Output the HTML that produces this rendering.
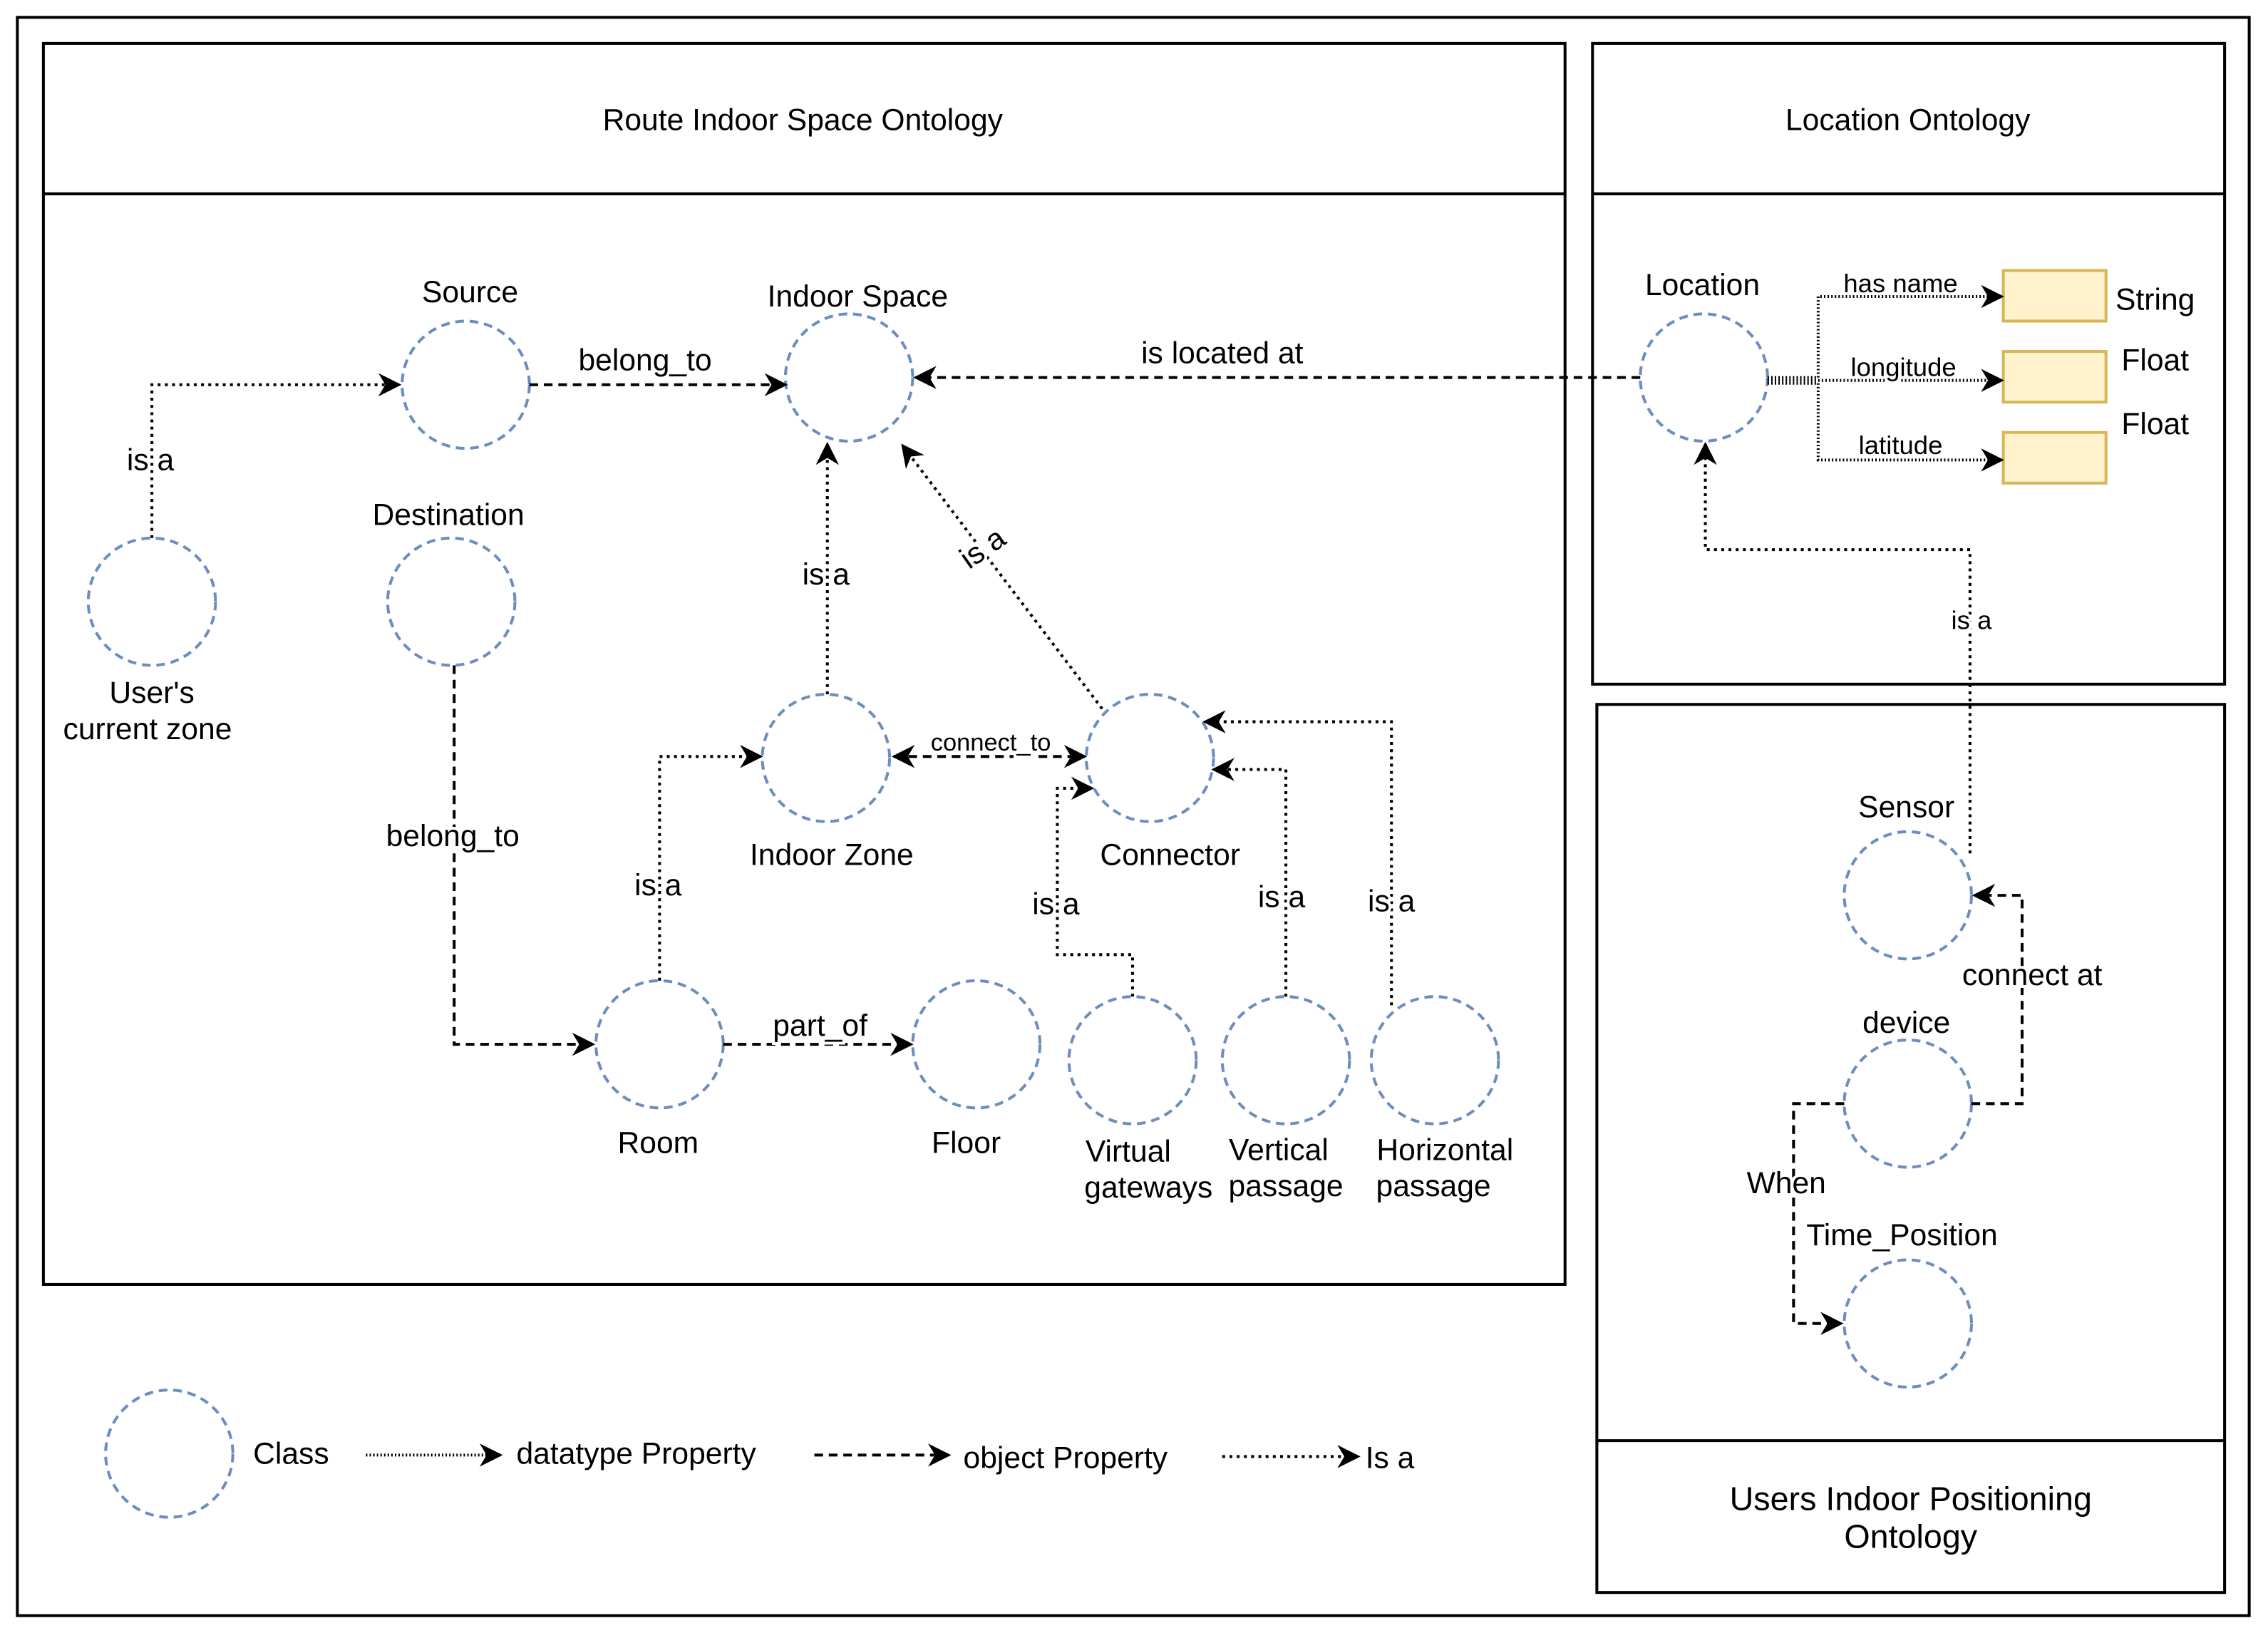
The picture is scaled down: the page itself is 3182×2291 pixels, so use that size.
<!DOCTYPE html>
<html><head><meta charset="utf-8"><style>
html,body{margin:0;padding:0;background:#fff;}
svg{display:block;}
text{font-family:"Liberation Sans",sans-serif;font-size:21px;fill:#000;}
.c{fill:none;stroke:#6c8ebf;stroke-width:2;stroke-dasharray:6,4;}
.b{fill:none;stroke:#000;stroke-width:2;}
.d{fill:none;stroke:#000;stroke-width:2;stroke-dasharray:2,3;}
.o{fill:none;stroke:#000;stroke-width:2;stroke-dasharray:6,4;}
.t{fill:none;stroke:#000;stroke-width:2;stroke-dasharray:1,1.5;}
.w{paint-order:stroke;stroke:#fff;stroke-width:4;}
</style></head><body>
<svg width="3182" height="2291" viewBox="0 0 1568 1129" preserveAspectRatio="none" xmlns="http://www.w3.org/2000/svg">
<defs><marker id="a" viewBox="0 0 10 10" refX="9" refY="5" markerWidth="8" markerHeight="8" orient="auto-start-reverse"><path d="M0,0 L10,5 L0,10 L3,5 z" fill="#000"/></marker></defs>
<rect x="0" y="0" width="1568" height="1129" fill="#fff"/>
<rect class="b" x="12" y="12" width="1543" height="1105"/>
<rect class="b" x="30" y="30" width="1052" height="858"/>
<line class="b" x1="30" y1="134" x2="1082" y2="134"/>
<rect class="b" x="1101" y="30" width="437" height="443"/>
<line class="b" x1="1101" y1="134" x2="1538" y2="134"/>
<rect class="b" x="1104" y="487" width="434" height="614"/>
<line class="b" x1="1104" y1="996" x2="1538" y2="996"/>
<text x="555" y="90" text-anchor="middle">Route Indoor Space Ontology</text>
<text x="1319" y="90" text-anchor="middle">Location Ontology</text>
<text x="1321" y="1044" text-anchor="middle" style="font-size:23px">Users Indoor Positioning</text>
<text x="1321" y="1070" text-anchor="middle" style="font-size:23px">Ontology</text>

<g>
<circle class="c" cx="322" cy="266" r="44"/>
<circle class="c" cx="587" cy="261" r="44"/>
<circle class="c" cx="105" cy="416" r="44"/>
<circle class="c" cx="312" cy="416" r="44"/>
<circle class="c" cx="571" cy="524" r="44"/>
<circle class="c" cx="795" cy="524" r="44"/>
<circle class="c" cx="456" cy="722" r="44"/>
<circle class="c" cx="675" cy="722" r="44"/>
<circle class="c" cx="783" cy="733" r="44"/>
<circle class="c" cx="889" cy="733" r="44"/>
<circle class="c" cx="992" cy="733" r="44"/>
<circle class="c" cx="1178" cy="261" r="44"/>
<circle class="c" cx="1319" cy="619" r="44"/>
<circle class="c" cx="1319" cy="763" r="44"/>
<circle class="c" cx="1319" cy="915" r="44"/>
<circle class="c" cx="117" cy="1005" r="44"/>
</g>

<g fill="#fff2cc" stroke="#d6b656" stroke-width="2">
<rect x="1385" y="187" width="71" height="35"/>
<rect x="1385" y="243" width="71" height="35"/>
<rect x="1385" y="299" width="71" height="35"/>
</g>

<polyline class="d" points="105,372 105,266 276,266" marker-end="url(#a)"/>
<line class="o" x1="366" y1="266" x2="543" y2="266" marker-end="url(#a)"/>
<line class="d" x1="572" y1="480" x2="572" y2="307" marker-end="url(#a)"/>
<line class="d" x1="762" y1="490" x2="624" y2="308" marker-end="url(#a)"/>
<line class="o" x1="1134" y1="261" x2="633" y2="261" marker-end="url(#a)"/>
<polyline class="o" points="314,460 314,722 410,722" marker-end="url(#a)"/>
<polyline class="d" points="456,678 456,523 526,523" marker-end="url(#a)"/>
<line class="o" x1="618" y1="523" x2="750" y2="523" marker-start="url(#a)" marker-end="url(#a)"/>
<polyline class="d" points="783,689 783,660 731,660 731,545 755,545" marker-end="url(#a)"/>
<polyline class="d" points="889,689 889,532 839,532" marker-end="url(#a)"/>
<polyline class="d" points="962,695 962,499 833,499" marker-end="url(#a)"/>
<line class="o" x1="500" y1="722" x2="630" y2="722" marker-end="url(#a)"/>
<polyline class="t" points="1222,261 1257,261 1257,205 1384,205" marker-end="url(#a)"/>
<polyline class="t" points="1222,263 1384,263" marker-end="url(#a)"/>
<polyline class="t" points="1222,265 1257,265 1257,318 1384,318" marker-end="url(#a)"/>
<polyline class="d" points="1362,590 1362,380 1179,380 1179,307" marker-end="url(#a)"/>
<polyline class="o" points="1363,763 1398,763 1398,619 1365,619" marker-end="url(#a)"/>
<polyline class="o" points="1275,763 1240,763 1240,915 1273,915" marker-end="url(#a)"/>

<line class="t" x1="253" y1="1006" x2="346" y2="1006" marker-end="url(#a)"/>
<line class="o" x1="563" y1="1006" x2="656" y2="1006" marker-end="url(#a)"/>
<line class="d" x1="845" y1="1007" x2="939" y2="1007" marker-end="url(#a)"/>
<text x="175" y="1012">Class</text>
<text x="357" y="1012">datatype Property</text>
<text x="666" y="1015">object Property</text>
<text x="944" y="1015">Is a</text>

<g text-anchor="middle">
<text x="325" y="209">Source</text>
<text x="593" y="212">Indoor Space</text>
<text x="310" y="363">Destination</text>
<text x="105" y="486">User's</text>
<text x="102" y="511">current zone</text>
<text x="575" y="598">Indoor Zone</text>
<text x="809" y="598">Connector</text>
<text x="455" y="797">Room</text>
<text x="668" y="797">Floor</text>
<text x="780" y="803">Virtual</text>
<text x="794" y="828">gateways</text>
<text x="884" y="802">Vertical</text>
<text x="889" y="827">passage</text>
<text x="999" y="802">Horizontal</text>
<text x="991" y="827">passage</text>
<text x="1177" y="204">Location</text>
<text x="1318" y="565">Sensor</text>
<text x="1318" y="714">device</text>
<text x="1315" y="861">Time_Position</text>
<text x="1235" y="825" class="w">When</text>
<text x="1405" y="681" class="w">connect at</text>
<text x="446" y="256" class="w">belong_to</text>
<text x="845" y="251">is located at</text>
<text x="104" y="325" class="w">is a</text>
<text x="571" y="404" class="w">is a</text>
<text x="313" y="585" class="w">belong_to</text>
<text x="455" y="619" class="w">is a</text>
<text x="685" y="519" class="w" style="font-size:17px">connect_to</text>
<text x="730" y="632" class="w">is a</text>
<text x="886" y="627" class="w">is a</text>
<text x="962" y="630" class="w">is a</text>
<text x="567" y="716" class="w">part_of</text>
<text x="1363" y="435" class="w" style="font-size:18px">is a</text>
<text x="1314" y="202" class="w" style="font-size:18px">has name</text>
<text x="1316" y="260" class="w" style="font-size:18px">longitude</text>
<text x="1314" y="314" class="w" style="font-size:18px">latitude</text>
<text x="1490" y="214">String</text>
<text x="1490" y="256">Float</text>
<text x="1490" y="300">Float</text>
</g>
<text x="0" y="0" transform="translate(670,394) rotate(-35)" class="w">is a</text>
</svg>
</body></html>
